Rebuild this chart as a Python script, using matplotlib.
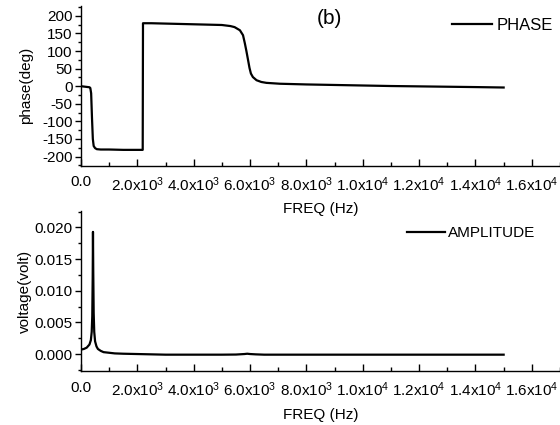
import matplotlib
matplotlib.use("Agg")
import matplotlib.pyplot as plt
from matplotlib.ticker import MultipleLocator, FixedLocator, FixedFormatter, FuncFormatter

plt.rcParams['font.family'] = ['Liberation Sans', 'DejaVu Sans']
plt.rcParams['mathtext.fontset'] = 'custom'
plt.rcParams['mathtext.rm'] = 'Liberation Sans'
plt.rcParams['mathtext.it'] = 'Liberation Sans:italic'
plt.rcParams['mathtext.default'] = 'regular'
plt.rcParams['axes.unicode_minus'] = False

# ---- data ----
freq_phase = [0, 100, 200, 300, 330, 360, 390, 420, 450, 500, 560, 700, 1000, 1500, 2000, 2190,
              2200, 2500, 3000, 3500, 4000, 4500, 5000, 5300, 5450, 5640, 5750, 5815, 5870, 5930,
              5980, 6030, 6100, 6230, 6400, 6580, 7060, 8000, 9000, 10000, 11000, 12000, 13000,
              14000, 15000]
phase = [0, -1, -2, -3, -5, -20, -90, -150, -170, -176, -179, -180, -180, -181, -181, -181,
         179, 179, 178, 177, 176, 175, 174, 171, 168, 159, 145, 122, 100, 74,
         52, 36, 26, 17, 12, 9.5, 7, 5, 3.5, 2, 0.5, -0.5, -1.5, -2.5, -3.7]

freq_amp = [0, 100, 200, 300, 350, 380, 400, 415, 425, 435, 450, 470, 500, 550, 600, 700,
            800, 1000, 1200, 1500, 2000, 3000, 4000, 5000, 5500, 5800, 5900, 6000, 6200,
            6500, 7000, 8000, 10000, 12000, 14000, 15000]
amplitude = [0.0007, 0.0008, 0.0010, 0.0015, 0.0022, 0.0035, 0.0060, 0.0120, 0.0193, 0.0130,
             0.0065, 0.0035, 0.0020, 0.0012, 0.0008, 0.0005, 0.0003, 0.0002, 0.0001, 0.00005,
             0.0, -0.0001, -0.0001, -0.0001, -0.00008, 0.0, 0.00005, 0.0, -0.00005,
             -0.0001, -0.0001, -0.0001, -0.0001, -0.0001, -0.0001, -0.0001]

xtick_vals = [0, 2000, 4000, 6000, 8000, 10000, 12000, 14000, 16000]
xtick_labels = ['0.0', r'2.0x10$^{3}$', r'4.0x10$^{3}$', r'6.0x10$^{3}$', r'8.0x10$^{3}$',
                r'1.0x10$^{4}$', r'1.2x10$^{4}$', r'1.4x10$^{4}$', r'1.6x10$^{4}$']

fig = plt.figure(figsize=(5.6, 4.25), dpi=100)
W, H = 560.0, 425.0
left = 81 / W
ax1 = fig.add_axes([left, 1 - 165.7 / H, 1 - left, (165.7 - 6) / H])
ax2 = fig.add_axes([left, 1 - 371 / H, 1 - left, (371 - 211) / H])

ax1.plot(freq_phase, phase, color='black', lw=1.6, label='PHASE')
ax2.plot(freq_amp, amplitude, color='black', lw=1.6, label='AMPLITUDE')

ax1.set_ylim(-226, 228)
ax2.set_ylim(-0.00268, 0.0226)

fs = 11
for ax in (ax1, ax2):
    ax.patch.set_visible(False)
    ax.set_xlim(0, 17000)
    for s in ('top', 'right'):
        ax.spines[s].set_visible(False)
    for s in ('left', 'bottom'):
        ax.spines[s].set_linewidth(1.0)
    ax.xaxis.set_major_locator(FixedLocator(xtick_vals))
    ax.xaxis.set_major_formatter(FixedFormatter(xtick_labels))
    ax.xaxis.set_minor_locator(MultipleLocator(1000))
    ax.tick_params(axis='x', which='major', direction='in', length=5, width=1, pad=7, labelsize=fs)
    ax.tick_params(axis='x', which='minor', direction='in', length=3, width=1)
    ax.tick_params(axis='y', which='major', direction='out', length=4, width=1, pad=2, labelsize=fs)
    ax.tick_params(axis='y', which='minor', direction='out', length=2, width=1)
    ax.set_xlabel('FREQ (Hz)', fontsize=fs, labelpad=6)

ax1.yaxis.set_major_locator(MultipleLocator(50))
ax1.yaxis.set_minor_locator(MultipleLocator(25))
ax1.yaxis.set_major_formatter(FuncFormatter(lambda v, p: '%d' % round(v)))
ax2.yaxis.set_major_locator(MultipleLocator(0.005))
ax2.yaxis.set_minor_locator(MultipleLocator(0.0025))
ax2.yaxis.set_major_formatter(FuncFormatter(lambda v, p: '%.3f' % (abs(v) if abs(v) < 1e-12 else v)))

ax1.set_ylabel('phase(deg)', fontsize=fs)
ax2.set_ylabel('voltage(volt)', fontsize=fs)
ax1.yaxis.set_label_coords(-(81 - 33) / 479.0, 0.5)
ax2.yaxis.set_label_coords(-(81 - 32) / 479.0, 0.5)

ax1.legend(loc='center left', bbox_to_anchor=(452 / W, 1 - 25 / H), bbox_transform=fig.transFigure,
           frameon=False, fontsize=12, handlelength=2.4, handletextpad=0.3, borderpad=0,
           borderaxespad=0)
ax2.legend(loc='center left', bbox_to_anchor=(407 / W, 1 - 233 / H), bbox_transform=fig.transFigure,
           frameon=False, fontsize=11, handlelength=2.5, handletextpad=0.2, borderpad=0,
           borderaxespad=0)

fig.text(329 / W, 1 - 18 / H, '(b)', fontsize=15, ha='center', va='center')

fig.savefig('out.png', dpi=100)
